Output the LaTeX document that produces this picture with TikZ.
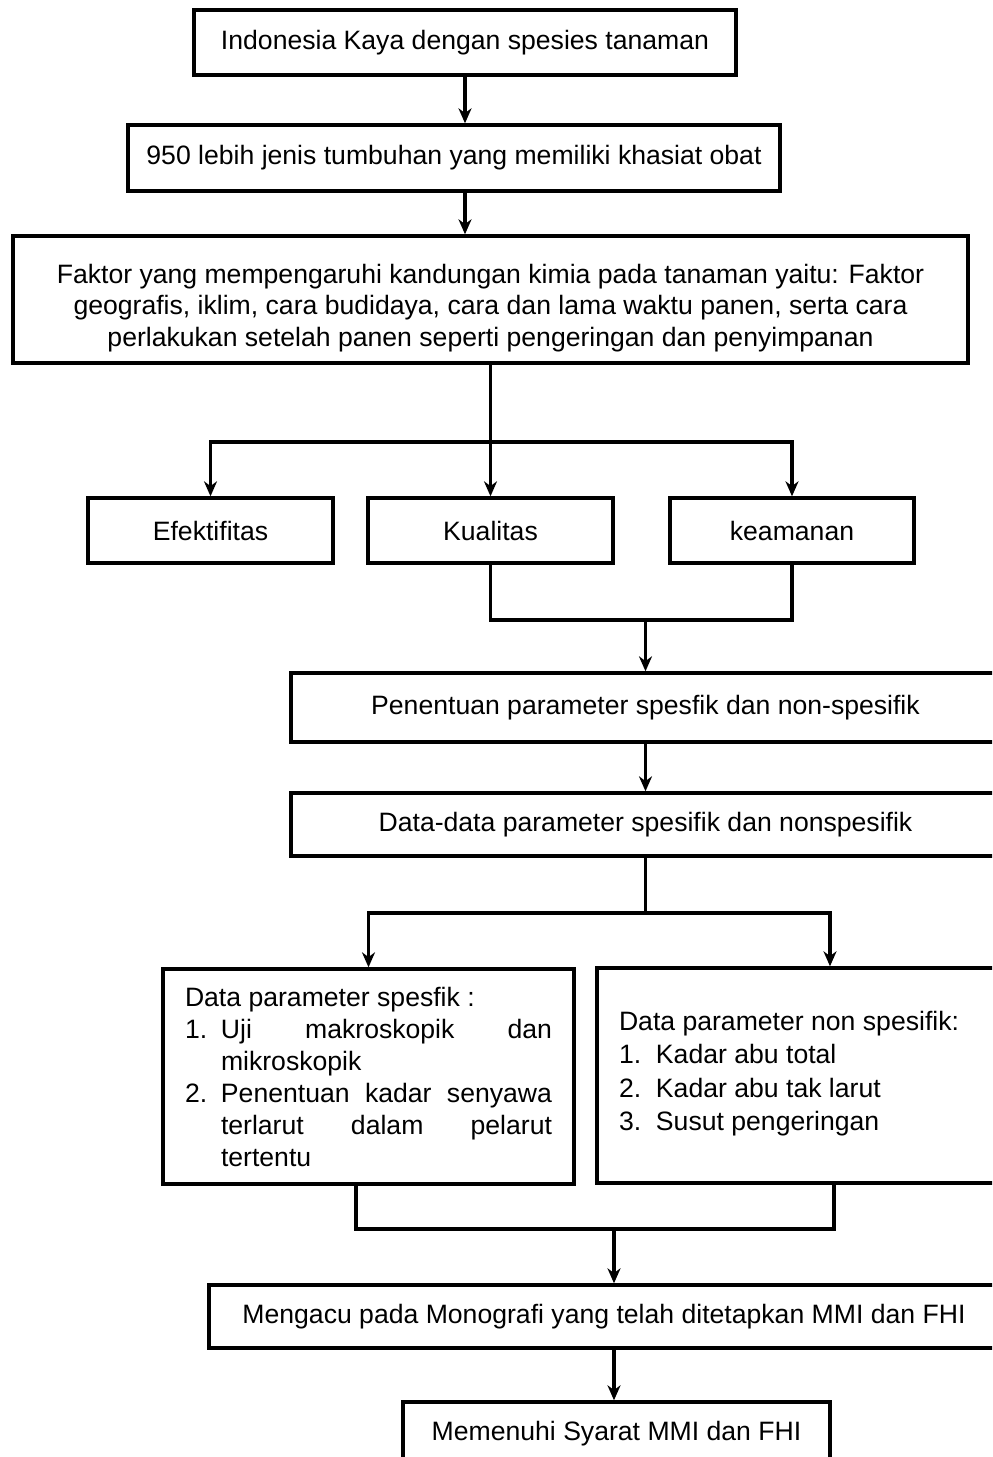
\documentclass[tikz,border=0pt]{standalone}
\usepackage{fontspec}
\setmainfont{Liberation Sans}
\usetikzlibrary{arrows.meta,calc}
\begin{document}
\begin{tikzpicture}[x=0.5pt,y=-0.5pt,
  font=\fontsize{13.3}{15.5}\selectfont,
  box/.style={draw, line width=1.7pt, inner sep=0pt, align=center},
  listbox/.style={draw, line width=1.7pt, inner sep=0pt},
  arr/.style={line width=1.6pt, -{Stealth[length=7.5pt,width=6.5pt,inset=2.4pt]}},
  lin/.style={line width=1.6pt}]
\useasboundingbox (0,0) rectangle (992,1457);
\clip (0,0) rectangle (992,1457);

\node[box, minimum width=271pt, minimum height=32.5pt] (b1) at (465,42.5) {Indonesia Kaya dengan spesies tanaman};
\node[box, minimum width=326pt, minimum height=33pt] (b2) at (454,158) {950 lebih jenis tumbuhan yang memiliki khasiat obat};
\node[box, minimum width=477.5pt, minimum height=63.5pt] (b3) at (490.5,299.5) {};
\node[align=center, inner sep=0pt, font=\fontsize{13.3}{15.75}\selectfont] (t3) at (490.5,308) {Faktor yang mempengaruhi kandungan kimia pada tanaman yaitu: Faktor\\geografis, iklim, cara budidaya, cara dan lama waktu panen, serta cara\\perlakukan setelah panen seperti pengeringan dan penyimpanan};

\node[box, minimum width=122.5pt, minimum height=32.5pt] (e) at (210.5,530.5) {Efektifitas};
\node[box, minimum width=122.5pt, minimum height=32.5pt] (k) at (490.5,530.5) {Kualitas};
\node[box, minimum width=122pt, minimum height=32.5pt] (s) at (792,530.5) {keamanan};

\node[box, minimum width=354.5pt, minimum height=34.5pt] (p) at (645.5,707.5) {Penentuan parameter spesfik dan non-spesifik};
\node[box, minimum width=354.5pt, minimum height=31.5pt] (d) at (645.5,824.5) {Data-data parameter spesifik dan nonspesifik};

\node[listbox, minimum width=205.5pt, minimum height=107.5pt] (L) at (368.5,1076.5) {%
\begin{minipage}{183.5pt}\fontsize{13.3}{16}\selectfont\hyphenpenalty=10000\parindent=0pt
Data parameter spesfik :\par
\hangindent=18pt\hangafter=1\noindent\makebox[18pt][l]{1.}Uji makroskopik dan\linebreak mikroskopik\par
\hangindent=18pt\hangafter=1\noindent\makebox[18pt][l]{2.}Penentuan kadar senyawa\linebreak terlarut dalam pelarut\linebreak tertentu\par
\end{minipage}};
\node[listbox, minimum width=205.5pt, minimum height=107.5pt] (R) at (802.5,1075.5) {%
\begin{minipage}{183.5pt}\fontsize{13.3}{16.75}\selectfont\parindent=0pt
Data parameter non spesifik:\par
\makebox[18.5pt][l]{1.}Kadar abu total\par
\makebox[18.5pt][l]{2.}Kadar abu tak larut\par
\makebox[18.5pt][l]{3.}Susut pengeringan\par
\vspace*{2pt}
\end{minipage}};

\node[box, minimum width=395pt, minimum height=31.5pt] (m) at (604,1316.5) {Mengacu pada Monografi yang telah ditetapkan MMI dan FHI};
\node[box, minimum width=213.5pt, minimum height=31.5pt] (f) at (616.5,1433.5) {Memenuhi Syarat MMI dan FHI};

% connectors
\draw[arr] (b1.south) -- (b1.south |- b2.north);
\draw[arr] (b1.south |- b2.south) -- (b1.south |- b3.north);
\draw[arr] (b3.south -| k.north) -- (k.north);
\coordinate (j1) at (490.5,442);
\draw[arr] (j1) -| (e.north);
\draw[arr] (j1) -| (s.north);
\coordinate (j2) at (645.5,620);
\draw[lin] (k.south) |- (j2);
\draw[lin] (s.south) |- (j2);
\draw[arr] (j2) -- (p.north);
\draw[arr] (p.south) -- (d.north);
\coordinate (j3) at (645.5,913);
\draw[lin] (d.south) -- (j3);
\draw[arr] (j3) -| (L.north);
\coordinate (rx) at (830,913);
\draw[arr] (j3) -- (rx) -- (rx |- R.north);
\coordinate (j4) at (614,1229);
\coordinate (lx) at (356,1229);
\coordinate (rx2) at (834,1229);
\draw[lin] (L.south -| lx) -- (lx) -- (rx2) -- (R.south -| rx2);
\draw[arr] (j4) -- (j4 |- m.north);
\draw[arr] (j4 |- m.south) -- (j4 |- f.north);
\end{tikzpicture}
\end{document}
